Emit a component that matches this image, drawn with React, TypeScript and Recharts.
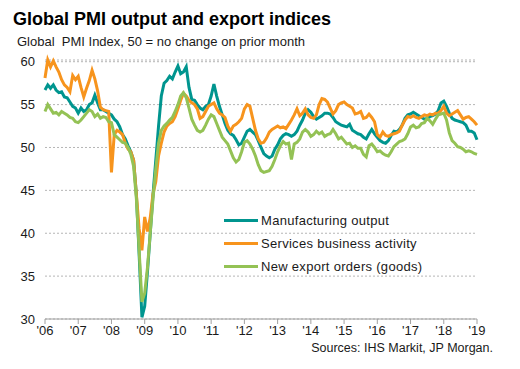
import React from 'react';
import { LineChart, Line, XAxis, YAxis, CartesianGrid, Legend } from 'recharts';

const yearLabels = ['06', '07', '08', '09', '10', '11', '12', '13', '14', '15', '16', '17', '18', '19'];
const yTicks = [30, 35, 40, 45, 50, 55, 60];

const manufacturingOutput = [
  56.7, 57.3, 56.9, 57.3, 56.7, 56.4, 56.5, 55.9, 55.8, 55.3, 54.8, 54.6,
  54.0, 54.6, 54.2, 54.4, 55.0, 55.2, 56.1, 55.2, 54.4, 54.4, 54.2, 54.0,
  53.8, 53.3, 53.0, 52.4, 51.5, 51.0, 50.2, 49.5, 48.5, 44.5, 37.5, 30.2,
  31.5, 35.5, 40.0, 44.5, 48.5, 52.5, 56.0, 57.5, 57.8, 58.3, 58.0, 58.8,
  59.5, 58.6, 58.8, 59.4, 57.0, 55.6, 55.5, 55.0, 54.6, 54.4, 54.8, 55.0,
  56.0, 57.4, 56.0, 54.8, 53.8, 52.8, 52.0, 51.6, 51.4, 50.9, 50.3, 50.5,
  51.2, 51.9, 52.1, 51.8, 51.5, 50.8, 50.0, 49.3, 49.0, 48.8, 49.0, 49.8,
  50.3, 51.0, 51.4, 51.6, 51.5, 51.3, 51.5, 51.9, 52.6, 53.2, 54.0, 54.4,
  54.1, 53.6, 53.3, 53.5, 53.7, 54.0, 54.0, 53.9, 53.5, 53.0, 52.8, 52.6,
  52.5, 52.4, 52.7, 52.0, 51.8, 51.6, 51.5, 51.2, 51.0, 51.6, 52.1, 51.6,
  51.2, 50.8, 50.6, 50.5, 50.8, 51.4, 51.9, 51.8, 52.1, 52.6, 53.4, 53.8,
  53.9, 54.1, 53.9, 53.7, 53.5, 53.3, 53.4, 53.6, 53.7, 53.9, 54.3, 55.2,
  55.4, 54.8, 54.0, 53.4, 53.2, 53.1, 53.0, 52.9, 52.6, 51.9, 51.9, 51.7,
  50.9,
];

const servicesActivity = [
  58.1, 60.2, 59.4, 60.1, 59.4, 58.8, 57.9, 57.3, 57.0, 56.5, 58.4, 57.9,
  58.3, 57.0, 55.9, 56.9, 57.8, 59.0, 58.0, 56.6, 54.7, 54.4, 54.3, 54.2,
  47.1, 51.5, 52.0, 51.8, 51.5, 50.5, 49.8, 49.5, 48.5, 44.5, 40.5, 38.0,
  41.9, 40.2, 41.8, 44.6, 46.0, 49.0, 50.5, 51.8, 52.5, 52.8, 53.0, 53.6,
  54.5, 55.5, 56.3, 56.0, 55.5, 55.2, 55.0, 54.5, 53.4, 53.6, 54.2, 54.8,
  55.0, 55.2, 54.5, 54.0, 53.8, 53.5, 52.5, 51.9, 52.5, 52.7, 53.0, 53.4,
  54.5, 55.0, 54.8, 53.4, 52.0, 51.0, 50.5, 50.6, 51.1, 51.8, 52.1, 52.3,
  52.5, 52.3, 52.4, 52.2, 52.7, 53.2, 53.8, 54.5, 53.7, 54.0, 54.5, 53.8,
  53.5, 53.4, 53.8, 55.0, 55.7, 55.6, 55.3, 54.6, 53.9, 54.3, 55.0, 55.2,
  55.3, 55.0, 54.8, 54.6, 53.9, 54.0, 54.2, 53.4, 53.5, 53.9, 53.5, 53.0,
  51.5, 51.2, 51.8, 51.4, 51.3, 51.5, 51.6, 51.7, 51.9, 52.6, 53.2, 53.6,
  53.5, 53.7, 53.5, 53.4, 53.6, 53.8, 53.7, 53.9, 53.8, 54.0, 54.0, 54.3,
  54.8, 54.0, 53.7, 53.9, 54.1, 54.3, 53.8, 53.3, 53.5, 53.6, 53.3, 53.0,
  52.6,
];

const exportOrders = [
  54.2, 55.0, 54.5, 54.0, 54.1, 53.8, 54.2, 54.0, 53.8, 53.5, 53.4, 53.0,
  52.9, 53.2, 53.6, 54.0, 54.4, 54.2, 53.6, 53.9, 53.4, 53.6, 53.5, 53.0,
  52.9, 51.5, 51.2, 50.9, 50.6, 50.5, 50.0, 49.2, 47.8, 44.0, 38.0, 32.0,
  33.0, 36.0, 40.0, 44.0, 47.5, 50.5, 52.0, 52.5, 52.8, 53.2, 53.5, 54.2,
  55.0, 56.0, 56.4, 55.8, 54.6, 53.3, 52.6, 52.0, 51.8, 52.0, 52.6, 53.3,
  53.8, 53.6, 52.8, 52.0, 51.2, 50.8, 50.4, 49.6, 48.8, 48.3, 48.6, 49.5,
  50.6, 50.8, 50.4, 49.8, 49.0, 48.0, 47.3, 47.1, 47.2, 47.3, 47.8, 48.6,
  49.5, 50.2, 50.7, 50.4, 50.5, 48.6, 50.4, 50.6, 51.0, 51.8, 52.1, 51.8,
  51.3, 51.5, 51.9, 51.6, 51.8, 51.3, 51.5, 51.6, 52.1, 51.6, 51.0, 51.2,
  50.8, 50.4, 50.5, 50.0, 50.2, 49.9, 49.9, 49.2, 48.9, 50.2, 50.4, 50.0,
  49.5, 49.6, 49.3, 49.1, 49.0, 49.5, 50.1, 50.4, 50.7, 50.8, 51.0, 51.6,
  52.4, 52.6, 52.3, 52.4, 52.8, 52.9, 53.4, 53.1, 52.7, 53.3, 53.8, 53.9,
  54.0, 53.2, 51.7, 50.8, 50.5, 50.1, 50.0, 49.8, 49.5, 49.6, 49.5, 49.3,
  49.2,
];

const seriesNames = ['Manufacturing output', 'Services business activity', 'New export orders (goods)'];
const seriesColors = ['#00958F', '#F7941D', '#94C255'];

const data = manufacturingOutput.map((v, i) => ({
  m: i,
  mfg: v,
  svc: servicesActivity[i],
  exp: exportOrders[i],
}));

const xTicks = yearLabels.map((_, i) => i * 12);
const FONT = 'Arial, "Liberation Sans", sans-serif';

const renderLegend = () => {
  return (
    <div style={{ fontFamily: FONT }}>
      {seriesNames.map((name, idx) => (
        <div key={idx} style={{ display: 'flex', alignItems: 'center', height: 23 }}>
          <span style={{ display: 'inline-block', width: 34, height: 3, background: seriesColors[idx], marginRight: 3 }} />
          <span style={{ fontSize: 13, color: '#1a1a1a', letterSpacing: 0.3 }}>{name}</span>
        </div>
      ))}
    </div>
  );
};

export default function App() {
  return (
    <div style={{ position: 'fixed', left: 0, top: 0, width: 520, height: 369, background: '#fff', fontFamily: FONT }}>
      <div style={{ position: 'absolute', left: 13, top: 10, fontSize: 18, lineHeight: '18px', fontWeight: 'bold', color: '#000', whiteSpace: 'nowrap' }}>
        Global PMI output and export indices
      </div>
      <div style={{ position: 'absolute', left: 17, top: 35, fontSize: 13, lineHeight: '13px', color: '#1a1a1a', whiteSpace: 'pre' }}>
        {'Global  PMI Index, 50 = no change on prior month'}
      </div>
      <LineChart width={520} height={369} data={data} margin={{ top: 60, right: 43, bottom: 0, left: 0 }}>
        <CartesianGrid vertical={false} stroke="#b5b5b5" strokeDasharray="2 2" />
        <XAxis
          type="number"
          dataKey="m"
          domain={[0, 156]}
          ticks={xTicks}
          interval={0}
          height={50}
          axisLine={{ stroke: '#a0a0a0' }}
          tickLine={{ stroke: '#a0a0a0' }}
          tickSize={5}
          tickMargin={2}
          tick={{ fontSize: 13, fill: '#1a1a1a', fontFamily: FONT }}
          tickFormatter={(v: number) => "'" + yearLabels[Math.round(v / 12)]}
        />
        <YAxis
          type="number"
          domain={[30, 60]}
          ticks={yTicks}
          interval={0}
          width={45}
          axisLine={false}
          tickLine={false}
          tickSize={0}
          tickMargin={10}
          tick={{ fontSize: 13, fill: '#1a1a1a', fontFamily: FONT }}
        />
        <Legend
          layout="vertical"
          align="center"
          verticalAlign="middle"
          wrapperStyle={{ left: 224, top: 209, width: 240 }}
          content={renderLegend}
        />
        <Line type="linear" dataKey="mfg" name={seriesNames[0]} stroke={seriesColors[0]} strokeWidth={3} dot={false} isAnimationActive={false} />
        <Line type="linear" dataKey="svc" name={seriesNames[1]} stroke={seriesColors[1]} strokeWidth={3} dot={false} isAnimationActive={false} />
        <Line type="linear" dataKey="exp" name={seriesNames[2]} stroke={seriesColors[2]} strokeWidth={3} dot={false} isAnimationActive={false} />
      </LineChart>
      <div style={{ position: 'absolute', right: 27, top: 342, fontSize: 12.5, lineHeight: '12.5px', color: '#1a1a1a', whiteSpace: 'nowrap' }}>
        Sources: IHS Markit, JP Morgan.
      </div>
    </div>
  );
}
